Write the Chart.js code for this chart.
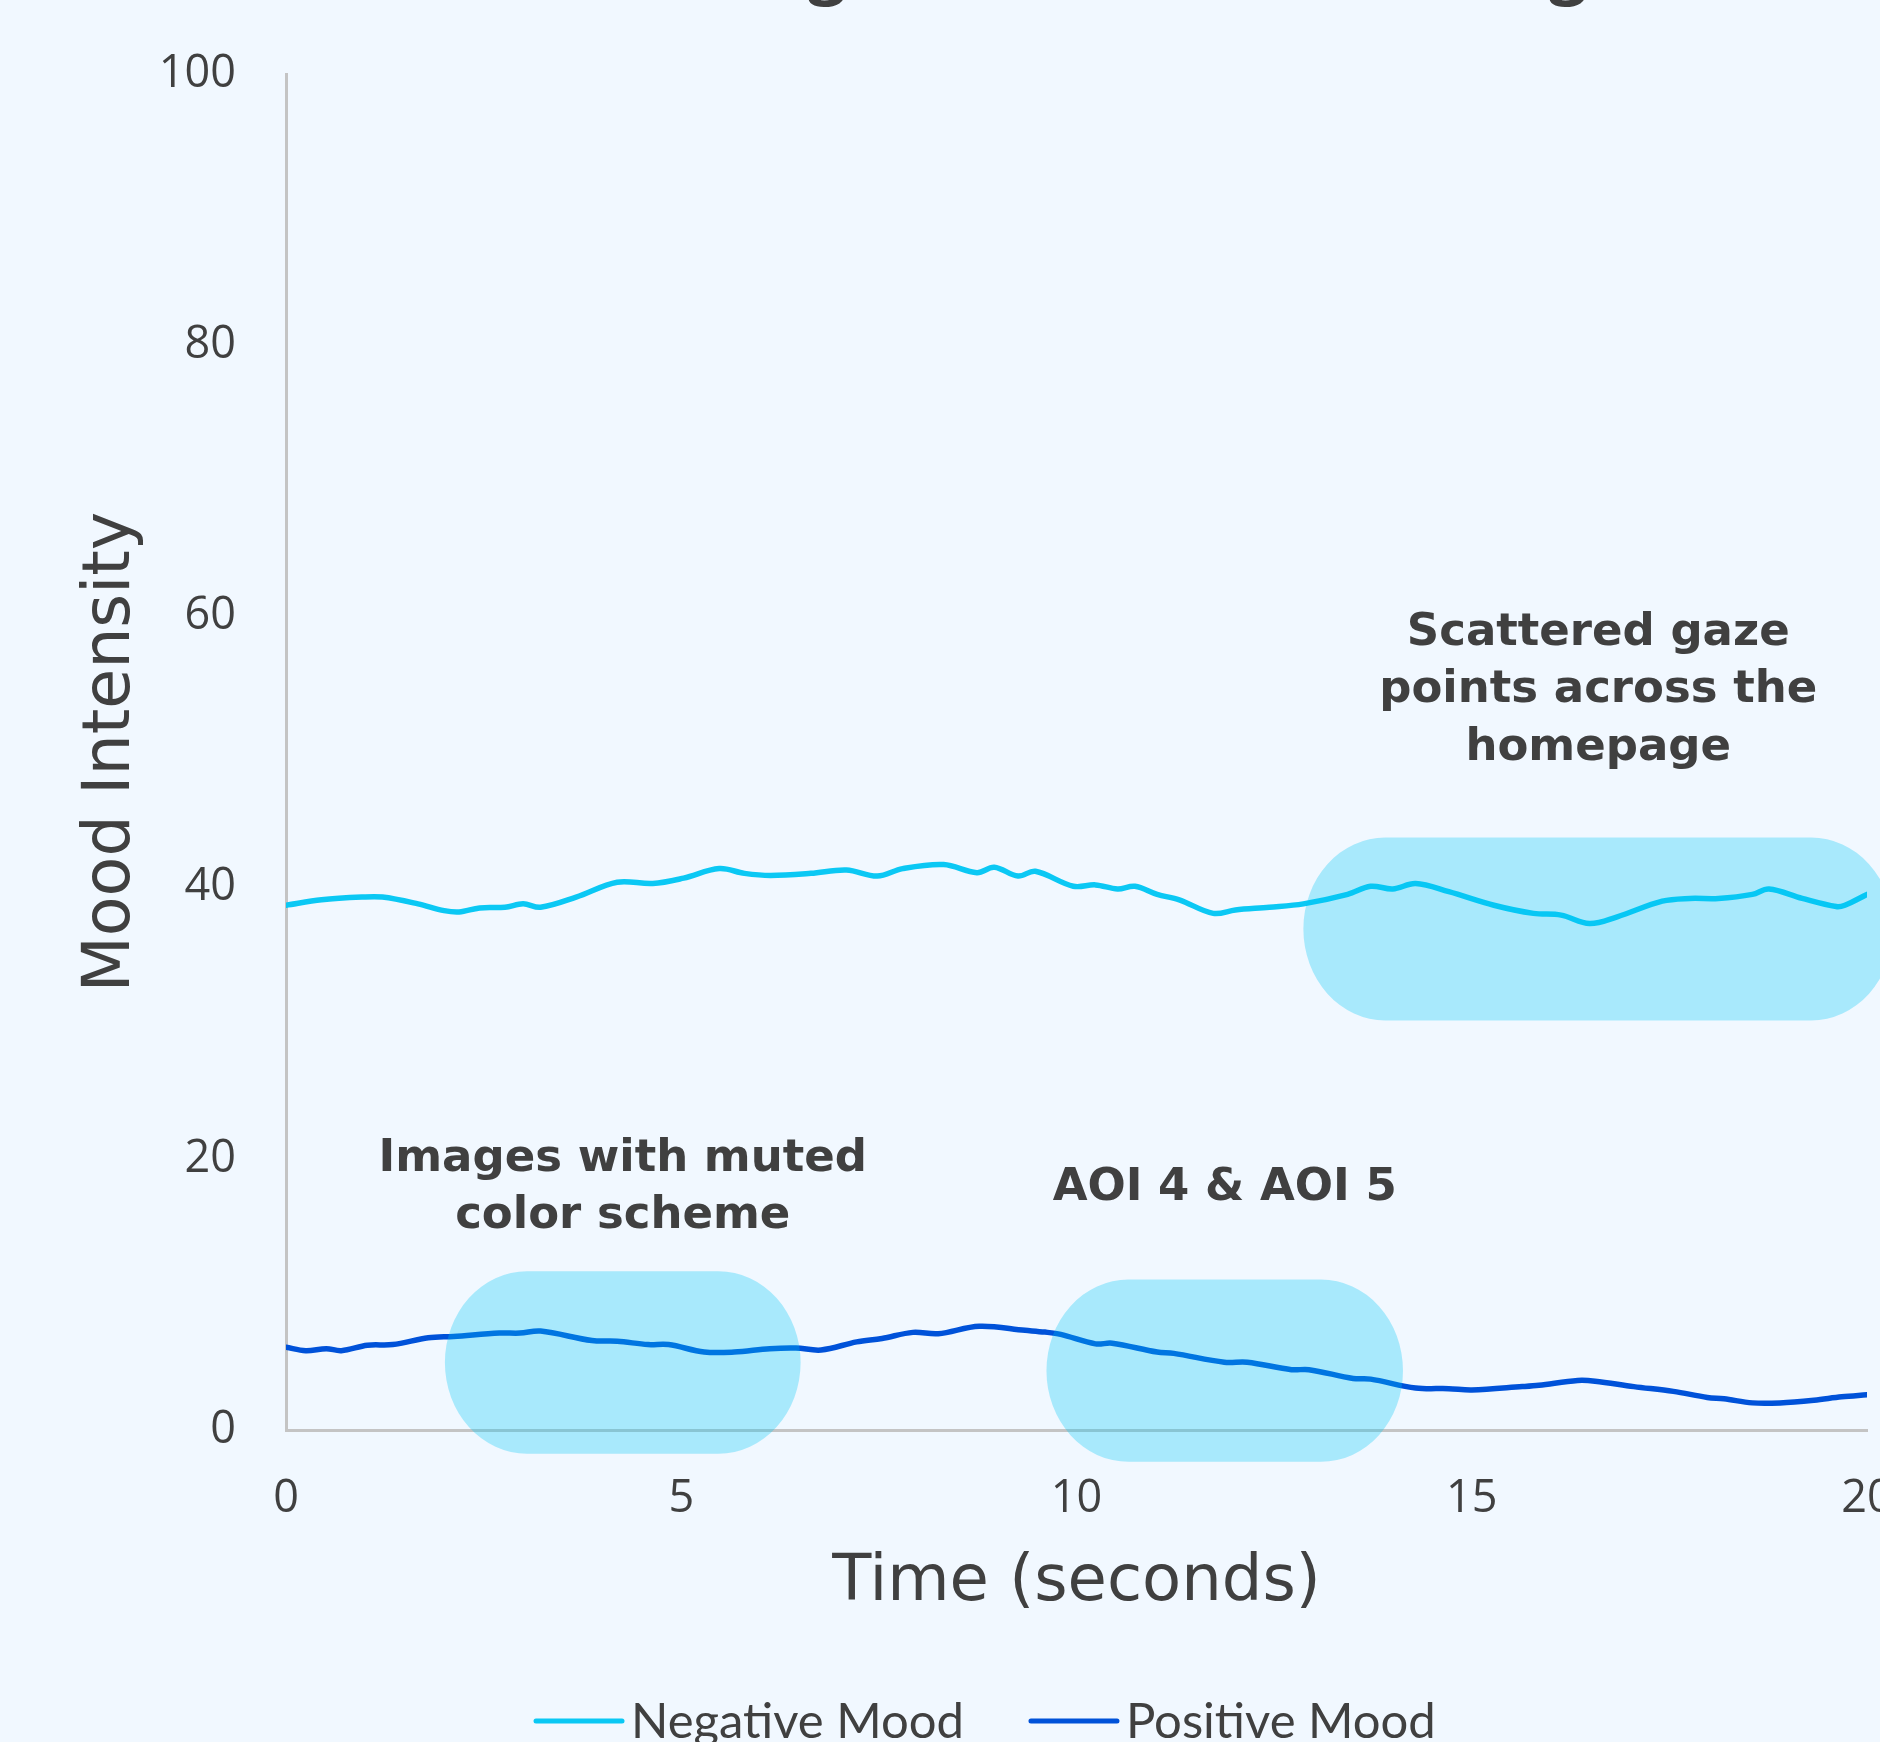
<!DOCTYPE html>
<html>
<head>
<meta charset="utf-8">
<title>Mood Intensity over Time</title>
<script src="https://cdn.jsdelivr.net/npm/chart.js@4.4.1/dist/chart.umd.min.js"></script>
<style>
  html, body { margin: 0; padding: 0; background: #f1f8ff; }
  #wrap { width: 1880px; height: 1742px; position: relative; }
  canvas { display: block; }
</style>
</head>
<body>
<div id="wrap"><canvas id="moodChart" width="1880" height="1742"></canvas></div>
<script>
// ---- Data -------------------------------------------------------------
const seriesNames = ['Negative Mood', 'Positive Mood'];

// Negative mood: sample times (s) and intensities
const negTimes = [0.00, 0.45, 0.96, 1.22, 1.67, 2.00, 2.19, 2.45, 2.77, 3.00, 3.22, 3.67, 4.19, 4.64, 5.03,
  5.48, 5.80, 6.13, 6.64, 7.09, 7.48, 7.80, 8.32, 8.74, 8.96, 9.26, 9.48, 9.96, 10.24, 10.52, 10.74,
  11.02, 11.30, 11.73, 12.01, 12.44, 12.87, 13.43, 13.72, 14.00, 14.29, 14.71, 15.28, 15.78, 16.13,
  16.49, 16.84, 17.41, 17.76, 18.12, 18.55, 18.76, 19.18, 19.61, 19.72, 20.00];
const negValues = [38.7, 39.1, 39.3, 39.3, 38.8, 38.3, 38.2, 38.5, 38.55, 38.8, 38.55, 39.3, 40.4, 40.3, 40.7,
  41.4, 41.05, 40.9, 41.05, 41.3, 40.85, 41.4, 41.7, 41.1, 41.5, 40.85, 41.2, 40.1, 40.2, 39.9, 40.1,
  39.5, 39.1, 38.1, 38.35, 38.55, 38.8, 39.5, 40.1, 39.9, 40.3, 39.7, 38.7, 38.1, 37.97,
  37.35, 37.85, 39.0, 39.2, 39.2, 39.5, 39.9, 39.2, 38.6, 38.7, 39.5];

// Positive mood: sample times (s) and intensities
const posTimes = [0.00, 0.25, 0.51, 0.70, 1.03, 1.35, 1.80, 2.12, 2.70, 2.96, 3.22, 3.87, 4.19, 4.58, 4.84,
  5.29, 5.67, 6.12, 6.45, 6.77, 7.22, 7.54, 7.93, 8.25, 8.77, 9.35, 9.60, 9.80, 10.24, 10.45, 11.02,
  11.23, 11.87, 12.16, 12.72, 12.94, 13.50, 13.72, 14.29, 14.71, 15.00, 15.64, 15.85, 16.34, 16.56,
  17.05, 17.55, 17.98, 18.19, 18.55, 18.90, 19.33, 19.68, 20.00];
const posValues = [6.1, 5.85, 6.0, 5.85, 6.25, 6.3, 6.8, 6.9, 7.15, 7.15, 7.3, 6.6, 6.55, 6.3, 6.3,
  5.75, 5.75, 6.0, 6.05, 5.9, 6.5, 6.75, 7.2, 7.1, 7.65, 7.35, 7.22, 7.05, 6.35, 6.4, 5.75,
  5.65, 5.0, 5.0, 4.45, 4.45, 3.8, 3.75, 3.1, 3.05, 2.95, 3.2, 3.3, 3.65, 3.6,
  3.2, 2.85, 2.4, 2.3, 2.0, 2.0, 2.2, 2.45, 2.6];

// Axis tick labels
const xTickValues = [0, 5, 10, 15, 20];
const yTickValues = [0, 20, 40, 60, 80, 100];

// Highlighted gaze zones (time span in s, intensity span) and their captions
const zoneCaptions = [
  ['Images with muted', 'color scheme'],
  ['AOI 4 & AOI 5'],
  ['Scattered gaze', 'points across the', 'homepage']
];
const zoneStart = [2.01, 9.62, 12.87];
const zoneEnd = [6.51, 14.13, 20.33];
const zoneHigh = [11.7, 11.1, 43.7];
const zoneLow = [-1.75, -2.35, 30.2];
const captionBase = [15.75, 17.85, 50.3];   // intensity level of each caption's last line

const chartTitle = 'Mood Shifts During Home Screen Viewing';

// ---- Styling ----------------------------------------------------------
const BG = '#f1f8ff';
const TEXT = '#404040';
const NEG_COLOR = '#0bc8f4';
const POS_COLOR = '#0052d9';
const ZONE_FILL = 'rgba(0, 200, 245, 0.30)';
const AXIS_TITLE_FONT = '"DejaVu Sans", "Open Sans", sans-serif';

function toPoints(ts, vs) { return ts.map((t, i) => ({ x: t, y: vs[i] })); }

function pillPath(ctx, x0, y0, x1, y1, rx, ry) {
  ry = Math.min(ry, (y1 - y0) / 2);
  rx = Math.min(rx, (x1 - x0) / 2);
  ctx.beginPath();
  ctx.moveTo(x0 + rx, y0);
  ctx.lineTo(x1 - rx, y0);
  ctx.ellipse(x1 - rx, y0 + ry, rx, ry, 0, -Math.PI / 2, 0);
  ctx.lineTo(x1, y1 - ry);
  ctx.ellipse(x1 - rx, y1 - ry, rx, ry, 0, 0, Math.PI / 2);
  ctx.lineTo(x0 + rx, y1);
  ctx.ellipse(x0 + rx, y1 - ry, rx, ry, 0, Math.PI / 2, Math.PI);
  ctx.lineTo(x0, y0 + ry);
  ctx.ellipse(x0 + rx, y0 + ry, rx, ry, 0, Math.PI, Math.PI * 1.5);
  ctx.closePath();
}

// Page background behind the plot
const backgroundPlugin = {
  id: 'pageBackground',
  beforeDraw(chart) {
    const ctx = chart.ctx;
    ctx.save();
    ctx.fillStyle = BG;
    ctx.fillRect(0, 0, chart.width, chart.height);
    ctx.restore();
  }
};

// Translucent gaze zones with their captions, laid over the lines
const zonesPlugin = {
  id: 'gazeZones',
  afterDatasetsDraw(chart) {
    const { ctx, scales: { x, y } } = chart;
    ctx.save();
    zoneStart.forEach((t0, i) => {
      const x0 = x.getPixelForValue(t0), x1 = x.getPixelForValue(zoneEnd[i]);
      const y0 = y.getPixelForValue(zoneHigh[i]), y1 = y.getPixelForValue(zoneLow[i]);
      pillPath(ctx, x0, y0, x1, y1, 82, 92);
      ctx.fillStyle = ZONE_FILL;
      ctx.fill();
    });
    ctx.fillStyle = TEXT;
    ctx.font = '700 45px "DejaVu Sans", Inter, sans-serif';
    ctx.textAlign = 'center';
    ctx.textBaseline = 'middle';
    zoneCaptions.forEach((lines, i) => {
      const cx = (x.getPixelForValue(zoneStart[i]) + x.getPixelForValue(zoneEnd[i])) / 2;
      const baseY = y.getPixelForValue(captionBase[i]);
      lines.forEach((line, j) => {
        ctx.fillText(line, cx, baseY - (lines.length - 1 - j) * 57.5);
      });
    });
    ctx.restore();
  }
};

// Legend at the foot of the chart and the heading running off the top edge
const decorPlugin = {
  id: 'decor',
  afterDraw(chart) {
    const ctx = chart.ctx;
    ctx.save();
    // legend
    ctx.font = '49px Lato, "Open Sans", sans-serif';
    ctx.textBaseline = 'alphabetic';
    ctx.textAlign = 'left';
    const colors = [NEG_COLOR, POS_COLOR];
    let lx = 536;
    seriesNames.forEach((name, i) => {
      ctx.strokeStyle = colors[i];
      ctx.lineWidth = 5;
      ctx.lineCap = 'round';
      ctx.beginPath();
      ctx.moveTo(lx, 1721);
      ctx.lineTo(lx + 86, 1721);
      ctx.stroke();
      ctx.fillStyle = TEXT;
      ctx.fillText(name, lx + 95, 1738);
      lx += 95 + ctx.measureText(name).width + 67;
    });
    // heading (only its lowest strokes reach into the canvas)
    let size = 70;
    const first = chartTitle.indexOf('g');
    const second = chartTitle.indexOf('g', first + 1);
    const centerOf = (idx) => ctx.measureText(chartTitle.slice(0, idx)).width + ctx.measureText('g').width / 2;
    ctx.font = `700 ${size}px "Open Sans", sans-serif`;
    const span = centerOf(second) - centerOf(first);
    size = size * (1568 - 827) / span;
    ctx.font = `700 ${size}px "Open Sans", sans-serif`;
    const left = 827 - centerOf(first);
    const desc = ctx.measureText('g').actualBoundingBoxDescent;
    ctx.fillStyle = TEXT;
    ctx.fillText(chartTitle, left, 7 - desc);
    ctx.restore();
  }
};

const ctx = document.getElementById('moodChart').getContext('2d');
new Chart(ctx, {
  type: 'line',
  data: {
    datasets: [
      {
        label: seriesNames[0],
        data: toPoints(negTimes, negValues),
        borderColor: NEG_COLOR,
        backgroundColor: NEG_COLOR,
        borderWidth: 5.5,
        pointRadius: 0,
        tension: 0.35,
        borderCapStyle: 'round',
        borderJoinStyle: 'round',
        fill: false
      },
      {
        label: seriesNames[1],
        data: toPoints(posTimes, posValues),
        borderColor: POS_COLOR,
        backgroundColor: POS_COLOR,
        borderWidth: 5.5,
        pointRadius: 0,
        tension: 0.35,
        borderCapStyle: 'round',
        borderJoinStyle: 'round',
        fill: false
      }
    ]
  },
  options: {
    responsive: false,
    animation: false,
    devicePixelRatio: 1,
    events: [],
    layout: { padding: { top: 74, right: 13, left: 0, bottom: 0 } },
    plugins: {
      legend: { display: false },
      tooltip: { enabled: false },
      title: { display: false }
    },
    scales: {
      x: {
        type: 'linear',
        min: 0,
        max: 20,
        afterBuildTicks(scale) { scale.ticks = xTickValues.map(v => ({ value: v })); },
        grid: { display: false, drawTicks: false },
        border: { display: true, color: '#c4c4c4', width: 3 },
        ticks: {
          padding: 42,
          maxRotation: 0,
          autoSkip: false,
          color: TEXT,
          font: { family: '"Open Sans", sans-serif', size: 45 }
        },
        title: {
          display: true,
          text: 'Time (seconds)',
          color: TEXT,
          font: { family: AXIS_TITLE_FONT, size: 64 },
          padding: { top: 0, bottom: 120 }
        },
        afterFit(scale) {
          scale.height = 312;
          scale.paddingLeft = 0;
          scale.paddingRight = 0;
        }
      },
      y: {
        min: 0,
        max: 100,
        afterBuildTicks(scale) { scale.ticks = yTickValues.map(v => ({ value: v })); },
        grid: { display: false, drawTicks: false },
        border: { display: true, color: '#c4c4c4', width: 3 },
        ticks: {
          padding: 50,
          color: TEXT,
          font: { family: '"Open Sans", sans-serif', size: 45 }
        },
        title: {
          display: true,
          text: 'Mood Intensity',
          color: TEXT,
          font: { family: AXIS_TITLE_FONT, size: 65 },
          padding: { top: 73, bottom: 0 }
        },
        afterFit(scale) {
          scale.width = 286;
          scale.paddingTop = 0;
          scale.paddingBottom = 0;
        }
      }
    }
  },
  plugins: [backgroundPlugin, zonesPlugin, decorPlugin]
});
</script>
</body>
</html>
